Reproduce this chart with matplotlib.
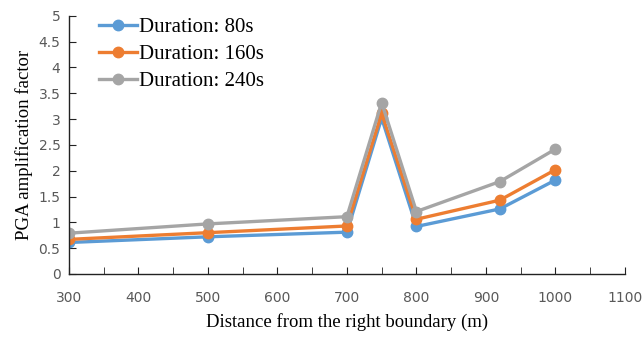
import matplotlib.pyplot as plt
from matplotlib.ticker import MultipleLocator

distance = [300, 500, 700, 750, 800, 920, 1000]
amp_80s = [0.61, 0.72, 0.81, 3.02, 0.92, 1.26, 1.82]
amp_160s = [0.67, 0.80, 0.93, 3.11, 1.06, 1.43, 2.02]
amp_240s = [0.79, 0.97, 1.11, 3.32, 1.21, 1.79, 2.42]
labels = ["Duration: 80s", "Duration: 160s", "Duration: 240s"]
colors = ["#5B9BD5", "#ED7D31", "#A5A5A5"]

serif = ["Liberation Serif", "DejaVu Serif"]

fig = plt.figure(figsize=(6.43, 3.37), dpi=100)
ax = fig.add_axes([0.107, 0.187, 0.865, 0.766])

for ys, lab, c in zip([amp_80s, amp_160s, amp_240s], labels, colors):
    ax.plot(distance, ys, color=c, lw=2.4, marker="o", ms=7.5, label=lab)

ax.set_xlim(300, 1100)
ax.set_ylim(0, 5)
ax.xaxis.set_major_locator(MultipleLocator(100))
ax.xaxis.set_minor_locator(MultipleLocator(50))
ax.yaxis.set_major_locator(MultipleLocator(0.5))
ax.set_yticklabels([f"{v:g}" for v in ax.get_yticks()])

for s in ["top", "right"]:
    ax.spines[s].set_visible(False)
for s in ["left", "bottom"]:
    ax.spines[s].set_color("#222222")
    ax.spines[s].set_linewidth(1.0)

ax.tick_params(axis="both", which="both", direction="in", colors="#222222",
               labelcolor="#595959", labelsize=10)
ax.tick_params(axis="x", which="both", length=5, pad=12)
ax.tick_params(axis="y", which="major", length=5, pad=6)

ax.set_xlabel("Distance from the right boundary (m)", fontsize=13.5,
              family=serif, labelpad=6)
ax.set_ylabel("PGA amplification factor", fontsize=13.5, family=serif,
              labelpad=4)

ax.legend(loc="upper left", bbox_to_anchor=(0.04, 1.025), frameon=False,
          prop={"family": serif, "size": 15}, handlelength=1.8,
          handletextpad=0.1, labelspacing=0.35, borderaxespad=0)

fig.savefig("out.png", dpi=100)
